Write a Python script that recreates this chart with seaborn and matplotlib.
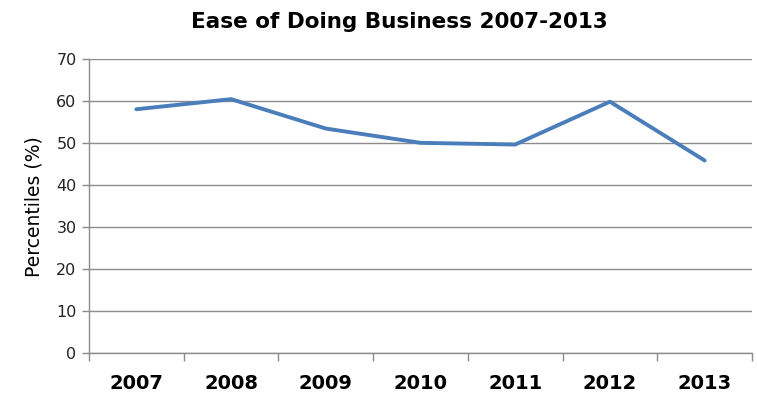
import matplotlib
matplotlib.use("Agg")
import matplotlib.pyplot as plt
import seaborn as sns
import pandas as pd
from matplotlib.ticker import FixedLocator

years = ["2007", "2008", "2009", "2010", "2011", "2012", "2013"]
percentiles = [58.1, 60.5, 53.5, 50.1, 49.7, 59.9, 45.9]

df = pd.DataFrame({"pos": range(len(years)), "year": years, "pct": percentiles})

sns.set_theme(style="white")
plt.rcParams["font.family"] = ["DejaVu Sans"]

fig = plt.figure(figsize=(7.57, 3.95), dpi=100)
ax = fig.add_axes([0.1176, 0.1056, 0.9934 - 0.1176, 0.85 - 0.1056])

sns.lineplot(data=df, x="pos", y="pct", ax=ax, color="#4A7EBB", linewidth=2.8)

ax.set_xlim(-0.5, len(years) - 0.5)
ax.set_ylim(0, 70)
ax.set_yticks(range(0, 71, 10))
ax.yaxis.grid(True, color="#8C8C8C", linewidth=1.0)
ax.xaxis.grid(False)

# category labels centred, tick marks on category boundaries
ax.set_xticks(df["pos"])
ax.set_xticklabels(years, fontsize=14, fontweight="bold", color="black")
ax.xaxis.set_minor_locator(FixedLocator([i - 0.5 for i in range(len(years) + 1)]))
ax.tick_params(axis="x", which="major", length=0, pad=15)
ax.tick_params(axis="x", which="minor", length=6, width=1, color="#8C8C8C", direction="out", bottom=True)
ax.tick_params(axis="y", which="major", length=5, width=1, color="#8C8C8C", direction="out", left=True,
               labelsize=11.5, labelcolor="#222222", pad=4)

for side in ["top", "right"]:
    ax.spines[side].set_visible(False)
for side in ["left", "bottom"]:
    ax.spines[side].set_color("#8C8C8C")
    ax.spines[side].set_linewidth(1.0)

ax.set_xlabel("")
ax.set_ylabel("Percentiles (%)", fontsize=13.5, color="black", labelpad=9)
fig.text(0.528, 0.945, "Ease of Doing Business 2007-2013", ha="center", va="center",
         fontsize=15.5, fontweight="bold", color="black")

fig.savefig("out.png", dpi=100, facecolor="white")
